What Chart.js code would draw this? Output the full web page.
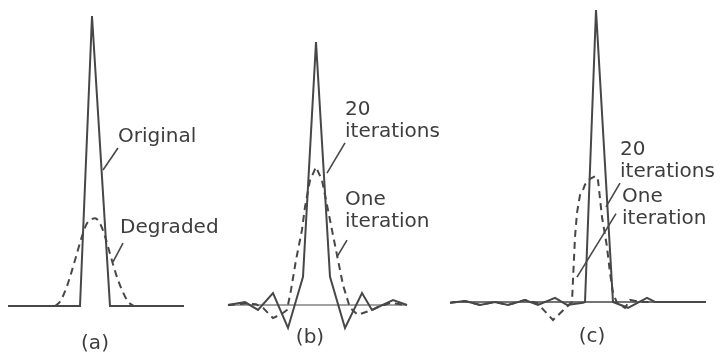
<!DOCTYPE html>
<html>
<head>
<meta charset="utf-8">
<script src="https://cdn.jsdelivr.net/npm/chart.js@4.4.1/dist/chart.umd.min.js"></script>
<style>
  html, body { margin: 0; padding: 0; background: #ffffff; }
  #wrap { position: relative; width: 720px; height: 353px; }
  canvas { display: block; }
</style>
</head>
<body>
<div id="wrap"><canvas id="c" width="720" height="353"></canvas></div>
<script>
// Positions are offsets from each spike centre (arbitrary distance units);
// values are relative intensity, original spike height = 100.

// (a) original object and degraded image
const aOriginalPos = [-84, -12, 0, 18, 92];
const aOriginalVal = [0, 0, 100, 0, 0];
const aDegradedPos = [-37, -32, -27, -22, -16, -10, -5, 0, 3, 8, 13, 18, 24, 30, 36, 42];
const aDegradedVal = [0, 1.5, 5, 10, 17, 24, 28.5, 30, 30.3, 28.5, 24, 18, 11, 5.5, 1.5, 0];

// (b) restoration, band-limited
const bBaselinePos = [-88, 91];
const b20Pos = [-88, -71, -58, -43, -28, -13, 0, 14, 29, 46, 56, 77, 91];
const b20Val = [0, 1, -1.7, 4.1, -7.9, 9.7, 90.7, 9.7, -7.9, 4.1, -1.7, 1.7, 0];
const bOnePos = [-88, -70, -60, -53, -43, -34, -29, -25, -20, -14, -11, -6, 0, 6, 12, 17, 22, 27, 34, 42, 50, 56, 62, 74, 91];
const bOneVal = [0, 0.5, 0.3, -1, -4.5, -3, -1.7, 5.2, 15.5, 25.9, 33.8, 43, 47.6, 43, 32.8, 24.1, 15.5, 6.9, -1, -3.4, -2.4, -1.7, -0.7, 0.7, 0];

// (c) restoration with positivity constraint
const cBaselinePos = [-144, 110];
const c20Pos = [-146, -131, -116, -101, -88, -71, -58, -41, -29, -13, -11, 0, 17, 32, 51, 59, 110];
const c20Val = [-0.3, 0.3, -1, 0, -1, 0.7, -1, 1.4, -1, -0.3, 0, 100.7, 0, -2, 1.4, 0, 0];
const cOnePos = [-146, -131, -116, -101, -88, -71, -59, -43, -24, -23, -21, -19, -16, -13, -11, -6, 0, 2, 6, 11, 14, 17, 21, 29, 34, 44, 54];
const cOneVal = [-0.3, 0.3, -1, 0, -1, 0.7, -0.3, -6.2, 0, 7.6, 22.4, 30.7, 36.9, 38.6, 40.5, 42.5, 43.5, 42, 29.3, 19, 10, 3.1, -0.3, -2, 0.7, 0, 0];

const zip = (xs, ys) => xs.map((x, i) => ({ x, y: ys[i] }));
const flat = xs => xs.map(x => ({ x, y: 0 }));

const INK = '#474747';
const DASH = [7, 5];

const line = (data, xAxisID, yAxisID, opts) => Object.assign({
  data, xAxisID, yAxisID,
  borderColor: INK, borderWidth: 2, pointRadius: 0, tension: 0,
  showLine: true, fill: false, borderJoinStyle: 'miter'
}, opts || {});

// Panel text and leader lines, placed in each panel's data units
const notes = [
  { x: 'xa', y: 'ya', lines: ['Original'], at: [26, 58.3], leader: [[11, 46.9], [26, 54.5]] },
  { x: 'xa', y: 'ya', lines: ['Degraded'], at: [28, 26.9], leader: [[21, 15.2], [31, 21.7]] },
  { x: 'xb', y: 'yb', lines: ['20', 'iterations'], at: [29, 67.2], leader: [[11, 45.5], [29, 55.9]] },
  { x: 'xb', y: 'yb', lines: ['One', 'iteration'], at: [29, 36.2], leader: [[21, 16.6], [31, 22.4]] },
  { x: 'xc', y: 'yc', lines: ['20', 'iterations'], at: [24, 52.4], leader: [[10, 32.8], [24, 41]] },
  { x: 'xc', y: 'yc', lines: ['One', 'iteration'], at: [26, 36.2], leader: [[-19, 8.6], [20, 30.5]] }
];
const captions = [
  { x: 'xa', y: 'ya', text: '(a)', at: [3, -13] },
  { x: 'xb', y: 'yb', text: '(b)', at: [-6, -11.4] },
  { x: 'xc', y: 'yc', text: '(c)', at: [-4, -12] }
];

const notesPlugin = {
  id: 'notes',
  afterDatasetsDraw(chart) {
    const ctx = chart.ctx;
    ctx.save();
    ctx.fillStyle = '#3d3d3d';
    ctx.strokeStyle = INK;
    ctx.font = '20px "DejaVu Sans"';
    ctx.textBaseline = 'middle';
    ctx.textAlign = 'left';
    const lh = 22;
    notes.forEach(n => {
      const sx = chart.scales[n.x], sy = chart.scales[n.y];
      const px = sx.getPixelForValue(n.at[0]);
      const py = sy.getPixelForValue(n.at[1]);
      n.lines.forEach((t, i) => ctx.fillText(t, px, py + i * lh));
      ctx.lineWidth = 1.6;
      ctx.beginPath();
      ctx.moveTo(sx.getPixelForValue(n.leader[0][0]), sy.getPixelForValue(n.leader[0][1]));
      ctx.lineTo(sx.getPixelForValue(n.leader[1][0]), sy.getPixelForValue(n.leader[1][1]));
      ctx.stroke();
    });
    ctx.textAlign = 'center';
    captions.forEach(c => {
      const sx = chart.scales[c.x], sy = chart.scales[c.y];
      ctx.fillText(c.text, sx.getPixelForValue(c.at[0]), sy.getPixelForValue(c.at[1]));
    });
    ctx.restore();
  }
};

const hidden = (min, max) => ({ type: 'linear', display: false, min, max });

new Chart(document.getElementById('c'), {
  type: 'scatter',
  data: {
    datasets: [
      line(zip(aOriginalPos, aOriginalVal), 'xa', 'ya'),
      line(zip(aDegradedPos, aDegradedVal), 'xa', 'ya', { borderDash: DASH, cubicInterpolationMode: 'monotone' }),
      line(flat(bBaselinePos), 'xb', 'yb', { borderWidth: 1.2 }),
      line(zip(b20Pos, b20Val), 'xb', 'yb'),
      line(zip(bOnePos, bOneVal), 'xb', 'yb', { borderDash: DASH }),
      line(flat(cBaselinePos), 'xc', 'yc', { borderWidth: 1.6 }),
      line(zip(c20Pos, c20Val), 'xc', 'yc'),
      line(zip(cOnePos, cOneVal), 'xc', 'yc', { borderDash: DASH })
    ]
  },
  options: {
    responsive: false,
    devicePixelRatio: 1,
    animation: false,
    layout: { padding: 0 },
    plugins: { legend: { display: false }, tooltip: { enabled: false } },
    scales: {
      xa: Object.assign(hidden(-92, 628), { position: 'bottom' }),
      xb: Object.assign(hidden(-316, 404), { position: 'bottom' }),
      xc: Object.assign(hidden(-596, 124), { position: 'bottom' }),
      ya: Object.assign(hidden(-16.21, 105.52), { position: 'left' }),
      yb: Object.assign(hidden(-16.55, 105.17), { position: 'left' }),
      yc: Object.assign(hidden(-17.59, 104.14), { position: 'left' })
    }
  },
  plugins: [notesPlugin]
});
</script>
</body>
</html>
